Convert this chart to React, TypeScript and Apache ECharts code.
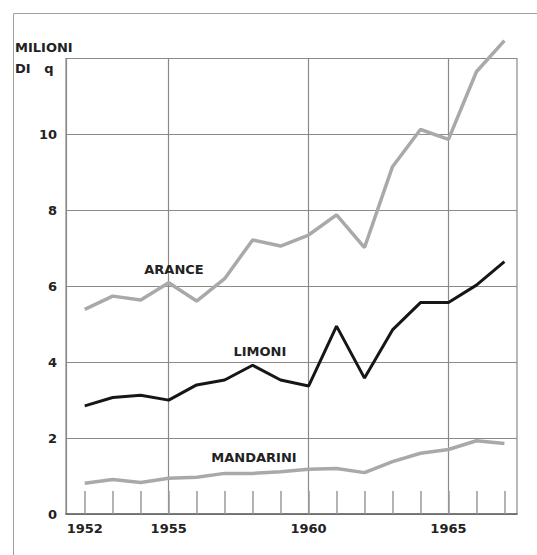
import React, { useEffect, useRef } from "react";
import * as echarts from "echarts";

const years = [1952, 1953, 1954, 1955, 1956, 1957, 1958, 1959, 1960, 1961, 1962, 1963, 1964, 1965, 1966, 1967];
const arance = [5.39, 5.74, 5.64, 6.09, 5.61, 6.2, 7.22, 7.06, 7.35, 7.88, 7.02, 9.15, 10.13, 9.87, 11.65, 12.47];
const limoni = [2.85, 3.07, 3.13, 3.0, 3.4, 3.53, 3.92, 3.53, 3.37, 4.95, 3.58, 4.85, 5.57, 5.57, 6.03, 6.65];
const mandarini = [0.81, 0.91, 0.83, 0.94, 0.97, 1.07, 1.07, 1.11, 1.18, 1.2, 1.09, 1.38, 1.6, 1.7, 1.93, 1.86];
const xLabelYears = [1952, 1955, 1960, 1965];
const gridYears = [1955, 1960, 1965];
const seriesNames = ["ARANCE", "LIMONI", "MANDARINI"];
const labelAnchors = [
  [1955.19, 6.45],
  [1958.26, 4.28],
  [1958.05, 1.48],
];

const FONT = "DejaVu Sans";

export default function App() {
  const ref = useRef<HTMLDivElement>(null);
  useEffect(() => {
    if (!ref.current) return;
    const chart = echarts.init(ref.current, null, { renderer: "svg" });
    const pair = (vals: number[]) => years.map((y, i) => [y, vals[i]]);
    const mk = (idx: number) => ({
      silent: true,
      symbol: "rect",
      symbolSize: [1, 1],
      itemStyle: { color: "rgba(0,0,0,0)" },
      label: {
        show: true,
        position: "inside",
        formatter: seriesNames[idx],
        color: "#222",
        fontFamily: FONT,
        fontWeight: "bold",
        fontSize: 13,
      },
      data: [{ coord: labelAnchors[idx] }],
    });
    const option: any = {
      animation: false,
      backgroundColor: "#fff",
      grid: {
        left: 66,
        right: 20,
        top: 58.5,
        bottom: 41,
        show: true,
        borderColor: "#8a8a8a",
        borderWidth: 1.2,
        backgroundColor: "transparent",
      },
      xAxis: [
        {
          type: "value",
          min: 1951.33,
          max: 1967.45,
          axisLine: { show: true, lineStyle: { color: "#666", width: 1.5 } },
          axisTick: { show: false, customValues: gridYears },
          splitLine: { show: true, lineStyle: { color: "#8a8a8a", width: 1.2 } },
          axisLabel: {
            customValues: xLabelYears,
            formatter: (v: number) => String(v),
            color: "#222",
            fontFamily: FONT,
            fontWeight: "bold",
            fontSize: 13,
            margin: 8,
          },
        },
        {
          type: "value",
          min: 1951.33,
          max: 1967.45,
          position: "bottom",
          axisLine: { show: false },
          axisLabel: { show: false },
          splitLine: { show: false },
          axisTick: {
            show: true,
            inside: true,
            length: 23,
            customValues: years,
            lineStyle: { color: "#9a9a9a", width: 1.5 },
          },
        },
      ],
      yAxis: {
        type: "value",
        min: 0,
        max: 12,
        interval: 2,
        axisLine: { show: true, lineStyle: { color: "#8a8a8a", width: 1.2 } },
        axisTick: { show: false },
        splitLine: { show: true, lineStyle: { color: "#8a8a8a", width: 1.2 } },
        axisLabel: {
          formatter: (v: number) => (v === 12 ? "" : String(v)),
          color: "#222",
          fontFamily: FONT,
          fontWeight: "bold",
          fontSize: 13,
          margin: 9,
        },
      },
      graphic: [
        {
          type: "rect",
          shape: { x: 13.5, y: 13.5, width: 700, height: 700 },
          style: { fill: "none", stroke: "#a0a0a0", lineWidth: 1 },
          silent: true,
        },
        {
          type: "text",
          x: 15,
          y: 41,
          style: {
            text: "MILIONI",
            fill: "#222",
            font: `bold 13px "${FONT}"`,
          },
        },
        {
          type: "text",
          x: 15,
          y: 62,
          style: {
            text: "DI   q",
            fill: "#222",
            font: `bold 13px "${FONT}"`,
          },
        },
      ],
      series: [
        {
          name: "ARANCE",
          type: "line",
          xAxisIndex: 0,
          data: pair(arance),
          symbol: "none",
          clip: false,
          lineStyle: { color: "#a9a9a9", width: 3.5 },
          markPoint: mk(0),
        },
        {
          name: "LIMONI",
          type: "line",
          xAxisIndex: 0,
          data: pair(limoni),
          symbol: "none",
          clip: false,
          lineStyle: { color: "#161616", width: 3 },
          markPoint: mk(1),
        },
        {
          name: "MANDARINI",
          type: "line",
          xAxisIndex: 0,
          data: pair(mandarini),
          symbol: "none",
          clip: false,
          lineStyle: { color: "#a9a9a9", width: 3.5 },
          markPoint: mk(2),
        },
      ],
    };
    chart.setOption(option);
    return () => chart.dispose();
  }, []);
  return (
    <div
      ref={ref}
      style={{ position: "fixed", left: 0, top: 0, width: 537, height: 555, background: "#fff" }}
    />
  );
}
